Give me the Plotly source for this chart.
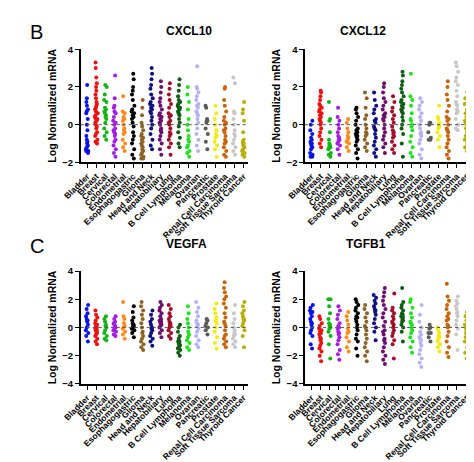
import plotly.graph_objects as go

categories = ["Bladder", "Breast", "Cervical", "Colorectal", "Endometrial",
              "Esophagogastric", "Glioma", "Head and Neck", "Hepatobiliary",
              "Lung", "B Cell Lymphoma", "Melanoma", "Ovarian", "Pancreatic",
              "Prostate", "Renal Cell Carcinoma", "Soft Tissue Sarcoma",
              "Thyroid Cancer"]

colors = ["#0a14e6", "#ee1111", "#14b414", "#a21fe0", "#ff8a1e", "#000000",
          "#8c6428", "#101080", "#6a0f6e", "#a0102a", "#0f5c14", "#22e022",
          "#b4b4f4", "#5a5a5a", "#f2ec10", "#c8640a", "#c8c8c8", "#b8ae08"]

cxcl10 = [
    [2.1, 1.4, 1.2, 0.7, 0.6, 0.3, 0.0, -0.3, -0.6, -0.8, -0.9, -1.0, -1.1, -1.2, -1.3, -1.4, -1.4, -1.5, 1.0, 0.8],
    [3.3, 3.0, 2.5, 2.2, 2.0, 1.8, 1.6, 1.4, 1.2, 1.0, 0.9, 0.8, 0.6, 0.5, 0.4, 0.3, 0.2, 0.0, -0.1, -0.2, -0.4, -0.5, -0.6, -0.8, -0.9, -1.0, 1.1, 0.7, 0.3, 0.1],
    [2.1, 2.0, 1.6, 1.3, 1.2, 0.9, 0.7, 0.6, 0.5, 0.3, 0.1, -0.2, -0.4, -0.6, -0.8, 0.8, 0.4],
    [2.6, 1.4, 1.0, 0.9, 0.6, 0.4, 0.2, 0.0, -0.2, -0.3, -0.5, -0.6, -0.8, -0.9, -1.1, -1.3, -1.5, -1.7, 0.1, -0.4, 0.7],
    [1.5, 0.7, 0.6, 0.4, 0.2, 0.0, -0.2, -0.4, -0.5, -0.8, -1.0, -1.2, -1.4, 0.3, -0.3],
    [2.7, 2.4, 2.0, 1.8, 1.6, 1.3, 1.0, 0.8, 0.7, 0.5, 0.3, 0.1, -0.1, -0.4, -0.6, -0.8, -1.0, -1.3, -1.6, -1.8, 0.6, 0.4],
    [1.3, 0.9, 0.5, 0.1, -0.1, -0.3, -0.5, -0.7, -0.9, -1.0, -1.2, -1.3, -1.4, -1.5, -1.6, -1.7, -1.8, -1.8, -0.8, -1.1, -0.6],
    [3.0, 2.7, 2.4, 2.1, 1.9, 1.6, 1.4, 1.2, 1.0, 0.9, 0.8, 0.6, 0.4, 0.2, 0.0, -0.2, -0.5, -0.8, -1.1, -1.3, 0.7, 1.1],
    [2.3, 2.0, 1.7, 1.4, 1.2, 1.0, 0.8, 0.6, 0.4, 0.2, 0.0, -0.2, -0.4, -0.6, -0.8, -1.0, -1.3, -1.6, 0.5, 0.3, 0.1, -0.3],
    [2.2, 1.9, 1.6, 1.3, 1.1, 0.9, 0.6, 0.4, 0.2, 0.0, -0.2, -0.4, -0.6, -0.8, -1.0, -1.2, -1.6, 0.5, 0.1, -0.5],
    [2.4, 2.1, 1.8, 1.5, 1.3, 1.2, 1.0, 0.9, 0.8, 0.6, 0.5, 0.3, 0.1, -0.1, -0.4, -0.7, -1.0, -1.2, 1.1, 0.7, 0.9],
    [2.0, 1.6, 1.2, 0.8, 0.3, 0.0, -0.3, -0.6, -0.9, -1.1, -1.2, -1.4, -1.5, -1.7, -0.8],
    [3.1, 2.0, 1.9, 1.7, 1.5, 1.3, 1.1, 0.9, 0.7, 0.5, 0.3, 0.1, -0.2, -0.5, -0.8, -1.1, -1.4, 1.0, 0.6],
    [1.0, 0.9, 0.3, 0.2, 0.2, 0.1, -0.2, -0.5, -0.9, -1.3],
    [1.0, 0.6, 0.3, 0.0, -0.3, -0.5, -0.7, -0.9, -1.1, -1.3, -1.7, -0.6],
    [2.0, 1.9, 1.3, 1.0, 0.7, 0.4, 0.2, 0.0, -0.2, -0.4, -0.6, -0.8, -1.0, -1.2, -1.4, -1.6, -1.7, -0.9, -0.3, 0.1],
    [2.5, 2.2, 0.7, 0.6, 0.3, 0.0, -0.3, -0.6, -0.8, -1.0, -1.2, -1.4, -1.6, -0.5],
    [1.2, 0.8, 0.6, 0.2, -0.4, -0.8, -0.9, -1.0, -1.1, -1.2, -1.3, -1.4, -1.5, -1.6, -1.7, -1.0],
]

cxcl12 = [
    [0.2, 0.0, -0.3, -0.5, -0.7, -0.8, -0.9, -1.0, -1.1, -1.2, -1.3, -1.5, -1.6, -1.7, -1.7, -1.0],
    [1.8, 1.7, 1.5, 1.3, 1.1, 1.0, 0.9, 0.8, 0.6, 0.5, 0.4, 0.2, 0.0, -0.2, -0.4, -0.6, -0.8, -1.0, -1.2, 0.7, 0.3, 0.1],
    [1.2, 0.3, 0.2, -0.4, -0.8, -1.0, -1.1, -1.2, -1.2, -1.3, -1.5, -1.6, -1.7, -1.1],
    [0.9, 0.4, 0.2, 0.0, -0.2, -0.4, -0.6, -0.7, -0.8, -0.9, -1.0, -1.1, -1.3, -1.6, -0.8],
    [0.3, 0.1, -0.2, -0.4, -0.6, -0.8, -0.9, -1.0, -1.2, -1.4, -0.7],
    [0.9, 0.8, 0.6, 0.4, 0.2, 0.0, -0.2, -0.3, -0.5, -0.6, -0.7, -0.8, -0.9, -1.1, -1.3, -1.5, -1.8, -0.6, -0.4],
    [1.7, 1.4, 0.9, 0.5, 0.3, 0.0, -0.2, -0.4, -0.6, -0.8, -1.0, -1.2, -1.4, -0.5],
    [1.7, 1.3, 1.0, 0.8, 0.6, 0.3, 0.1, -0.1, -0.3, -0.5, -0.7, -0.9, -1.1, -1.3, -1.5, -1.7, 0.2, -0.2],
    [2.2, 2.0, 1.7, 1.4, 1.2, 1.0, 0.8, 0.6, 0.4, 0.2, 0.0, -0.2, -0.4, -0.6, -0.8, -1.0, -1.2, -1.5, 0.5, 0.3],
    [1.5, 1.2, 0.9, 0.7, 0.5, 0.3, 0.1, -0.1, -0.3, -0.5, -0.7, -0.9, -1.1, -1.3, -1.5, -0.6, -0.4],
    [2.8, 2.6, 2.3, 2.1, 1.9, 1.7, 1.5, 1.3, 1.2, 1.0, 0.9, 0.7, 0.6, 0.4, 0.2, 0.0, -0.2, -0.5, -1.0, -1.7, 1.1, 0.8],
    [2.7, 1.5, 1.3, 1.0, 0.6, 0.3, 0.2, 0.0, -0.3, -0.6, -0.9, -1.2, -1.5, -1.7, -0.1],
    [1.4, 1.2, 1.0, 0.8, 0.6, 0.4, 0.2, 0.0, -0.2, -0.4, -0.6, -0.8, -1.0, -1.3, -1.6, -1.8, -0.5],
    [0.1, 0.1, 0.0, -0.4, -0.7, -0.8, -0.8],
    [1.0, 0.4, 0.3, 0.1, 0.0, -0.1, -0.2, -0.4, -0.6, -0.8, -1.2],
    [2.3, 2.0, 1.6, 1.3, 1.0, 0.7, 0.4, 0.2, 0.0, -0.2, -0.4, -0.6, -0.8, -1.0, -1.2, -1.4, -1.6, -1.8, 0.3, -0.3],
    [3.3, 3.1, 2.8, 2.5, 2.3, 2.1, 1.8, 1.5, 1.2, 1.0, 0.8, 0.6, 0.3, 0.0, -0.2, -0.3, 1.1, 0.7],
    [1.7, 1.4, 1.1, 0.8, 0.6, 0.4, 0.2, 0.0, -0.2, -0.4, -0.6, -0.8, -1.0, -1.2, -1.4, 0.1],
]

vegfa = [
    [1.6, 1.3, 1.0, 0.8, 0.6, 0.4, 0.2, 0.0, -0.2, -0.4, -0.6, -1.0, 0.5],
    [1.2, 0.9, 0.7, 0.5, 0.3, 0.1, 0.0, -0.1, -0.2, -0.3, -0.4, -0.5, -0.6, -0.8, -1.0, -1.2, 0.2, -0.2],
    [0.8, 0.6, 0.4, 0.2, 0.0, -0.2, -0.4, -0.6, -0.8, -0.9, 0.1],
    [0.8, 0.6, 0.4, 0.3, 0.2, 0.1, 0.0, -0.1, -0.2, -0.3, -0.5, -0.6, 0.1],
    [1.8, 0.8, 0.6, 0.3, 0.1, -0.1, -0.3, -0.5, -0.8, 0.0],
    [1.5, 1.1, 0.7, 0.5, 0.3, 0.2, 0.1, 0.0, -0.1, -0.2, -0.4, -0.7, 0.2],
    [1.8, 1.5, 1.2, 0.9, 0.6, 0.3, 0.0, -0.3, -0.6, -0.8, -1.0, -1.2, -1.4, -1.6, -0.4],
    [1.2, 0.9, 0.6, 0.4, 0.2, 0.0, -0.2, -0.4, -0.6, -0.8, -1.0, -1.3, -0.1],
    [1.8, 1.6, 1.4, 1.2, 1.0, 0.8, 0.6, 0.5, 0.4, 0.3, 0.2, 0.1, 0.0, -0.2, -0.4, -0.7, 0.4],
    [1.6, 1.3, 1.0, 0.8, 0.6, 0.4, 0.2, 0.1, 0.0, -0.2, -0.4, -0.6, -0.8, 0.3],
    [0.2, 0.0, -0.3, -0.6, -0.8, -1.0, -1.1, -1.2, -1.3, -1.4, -1.5, -1.6, -1.8, -2.0, -1.2, -1.0],
    [1.5, 1.0, 0.6, 0.3, 0.0, -0.3, -0.5, -0.7, -0.9, -1.1, -1.4, -1.6],
    [1.8, 1.4, 1.1, 0.8, 0.5, 0.3, 0.1, -0.1, -0.3, -0.6, -0.9, -1.2, -1.4, 0.2],
    [0.6, 0.5, 0.3, 0.1, 0.0, -0.2, -0.5],
    [1.7, 1.3, 1.0, 0.7, 0.5, 0.3, 0.0, -0.3, -0.7, -1.1, -1.5],
    [3.2, 2.8, 2.5, 2.2, 2.0, 1.7, 1.4, 1.0, 0.7, 0.4, 0.1, -0.2, -0.5, -0.8, -1.0, -1.2, -1.4, 0.3, -0.6],
    [1.6, 1.0, 0.6, 0.3, 0.0, -0.2, -0.4, -0.6, -0.8, -1.0, -1.2, -1.4, -0.5],
    [1.8, 1.5, 1.2, 1.0, 0.8, 0.6, 0.5, 0.3, 0.1, -0.2, -0.6, -1.4, 0.6],
]

tgfb1 = [
    [1.6, 1.4, 1.2, 1.0, 0.8, 0.6, 0.4, 0.2, 0.0, -0.2, -0.4, -0.6, -1.2, -1.5, 1.1, 0.3],
    [0.8, 0.6, 0.3, 0.1, -0.1, -0.3, -0.5, -0.7, -0.9, -1.1, -1.3, -1.5, -1.7, -2.0, -2.4, -0.4, -0.8, -0.2],
    [2.0, 2.0, 1.5, 1.0, 0.6, 0.3, 0.1, 0.0, -0.1, -0.3, -0.6, -1.2, -2.2, 0.2],
    [1.5, 1.2, 0.9, 0.6, 0.3, 0.1, -0.1, -0.3, -0.5, -0.7, -0.9, -1.2, -1.6, -1.9, -2.3, -0.4, 0.0],
    [1.1, 0.8, 0.5, 0.2, -0.1, -0.4, -0.7, -1.0, -1.4, -1.7, -0.3],
    [2.0, 1.8, 1.6, 1.4, 1.2, 1.0, 0.8, 0.6, 0.4, 0.2, 0.0, -0.2, -0.5, -0.8, -1.0, -1.5, -2.0, 0.7],
    [1.6, 1.3, 1.0, 0.7, 0.4, 0.1, -0.2, -0.5, -0.8, -1.1, -1.4, -1.7, -2.0, -2.4, 0.0],
    [2.3, 2.1, 1.9, 1.7, 1.5, 1.3, 1.1, 0.9, 0.6, 0.3, 0.0, -0.3, -0.9, 1.2],
    [2.8, 2.5, 2.2, 1.9, 1.6, 1.3, 1.0, 0.7, 0.4, 0.1, -0.2, -0.5, -0.8, -1.1, -1.4, -1.7, -2.0, -2.3, -2.6, -0.9, -0.3],
    [2.4, 1.4, 1.2, 1.0, 0.8, 0.6, 0.4, 0.2, 0.0, -0.2, -0.4, -0.6, -0.9, -1.2, -2.2, 0.3],
    [2.8, 1.8, 1.6, 1.4, 1.2, 1.0, 0.9, 0.8, 0.7, 0.6, 0.5, 0.4, 0.2, 0.0, -0.3, -1.0, 0.8],
    [2.0, 1.8, 1.4, 1.0, 0.7, 0.4, 0.2, 0.0, -0.2, -0.4, -0.7, -1.0, -1.4, -1.8, 0.3],
    [1.6, 0.9, 0.4, 0.0, -0.3, -0.5, -0.7, -0.9, -1.1, -1.3, -1.6, -1.9, -2.2, -2.5, -2.8, -0.8],
    [0.2, 0.0, -0.1, -0.4, -0.7, -1.0, -0.4],
    [0.0, -0.2, -0.4, -0.6, -0.8, -1.0, -1.2, -1.4, -1.7, -0.7],
    [3.1, 2.2, 1.9, 1.6, 1.3, 1.0, 0.8, 0.5, 0.2, 0.0, -0.3, -0.6, -1.0, -1.4, -1.8, -2.1, 0.6, 0.1],
    [2.2, 1.9, 1.7, 1.5, 1.3, 1.0, 0.8, 0.5, 0.2, -0.1, -0.5, -1.6, 1.1],
    [1.1, 0.8, 0.5, 0.2, 0.0, -0.2, -0.4, -0.7, -1.0, -1.4, -1.8, -2.2, -0.5],
]

panels = [("CXCL10", cxcl10, "x", "y"), ("CXCL12", cxcl12, "x2", "y2"),
          ("VEGFA", vegfa, "x3", "y3"), ("TGFB1", tgfb1, "x4", "y4")]

fig = go.Figure()
for title, data, xa, ya in panels:
    for name, vals, col in zip(categories, data, colors):
        fig.add_trace(go.Box(
            x=[name] * len(vals), y=vals, name=name,
            boxpoints="all", jitter=0.55, pointpos=0,
            fillcolor="rgba(0,0,0,0)", line=dict(width=0, color="rgba(0,0,0,0)"),
            marker=dict(color=col, size=4), showlegend=False,
            hoverinfo="y", xaxis=xa, yaxis=ya))

font = "Liberation Sans"
xdom = [[0.12, 0.487], [0.612, 0.975]]
ydom = [[0.671, 0.922], [0.18, 0.43]]
yr = [[-2, 4], [-2, 4], [-4, 4], [-4, 4]]
lay = {}
for i in range(4):
    s = "" if i == 0 else str(i + 1)
    lay["xaxis" + s] = dict(
        domain=xdom[i % 2], anchor="y" + s, type="category",
        categoryorder="array", categoryarray=categories,
        tickmode="array", tickvals=categories, ticktext=categories,
        range=[-0.7, 17.5], tickangle=-45, showline=True, linecolor="black",
        linewidth=1.5, ticks="outside", ticklen=4, tickcolor="black",
        tickfont=dict(size=8.5, family=font, color="black", weight="bold"),
        showgrid=False)
    lay["yaxis" + s] = dict(
        domain=ydom[i // 2], anchor="x" + s, range=yr[i], dtick=2,
        showline=True, linecolor="black", linewidth=1.5, ticks="outside",
        ticklen=4, tickcolor="black", showgrid=False, zeroline=False,
        tickfont=dict(size=9.5, family=font, color="black", weight="bold"),
        title=dict(text="<b>Log Normalized mRNA</b>", standoff=4,
                   font=dict(size=10.5, family=font, color="black")))

fig.update_layout(width=474, height=462, margin=dict(l=0, r=0, t=0, b=0),
                  plot_bgcolor="white", paper_bgcolor="white", **lay)

shapes = []
for i in range(4):
    s = "" if i == 0 else str(i + 1)
    shapes.append(dict(type="line", xref="x%s domain" % s, yref="y" + s,
                       x0=0, x1=1, y0=0, y1=0,
                       line=dict(color="#555", width=1, dash="dot")))
fig.update_layout(shapes=shapes)

annots = []
for i, (title, _, _, _) in enumerate(panels):
    d = xdom[i % 2]
    annots.append(dict(text="<b>%s</b>" % title, xref="paper", yref="paper",
                       x=(d[0] + d[1]) / 2, y=ydom[i // 2][1] + 0.06,
                       showarrow=False, font=dict(size=12, family=font, color="black")))
annots.append(dict(text="B", xref="paper", yref="paper", x=0.005, y=0.99,
                   xanchor="left", yanchor="top", showarrow=False,
                   font=dict(size=20, family=font, color="black")))
annots.append(dict(text="C", xref="paper", yref="paper", x=0.005, y=0.515,
                   xanchor="left", yanchor="top", showarrow=False,
                   font=dict(size=20, family=font, color="black")))
fig.update_layout(annotations=annots, boxgap=0.1)

fig.write_html("out.html")
